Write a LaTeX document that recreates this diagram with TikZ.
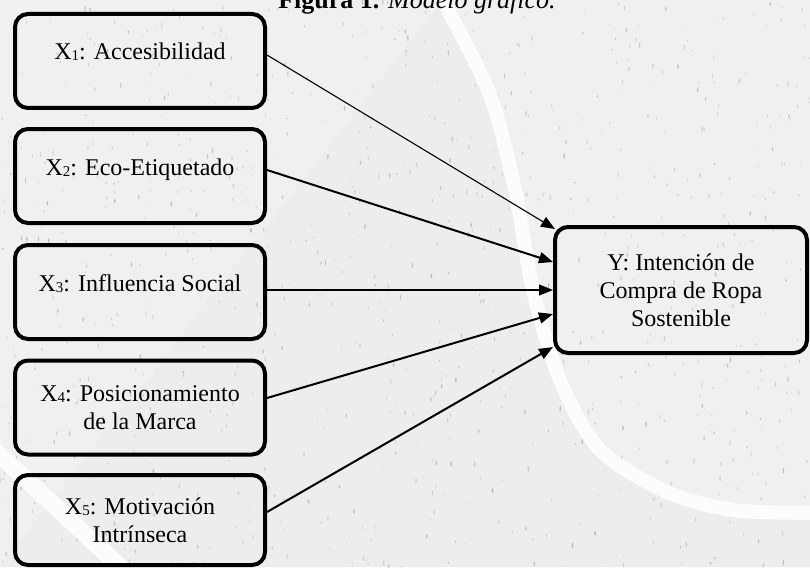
\documentclass[tikz,border=0pt]{standalone}
\usepackage{fontspec}
\setmainfont{Liberation Serif}
\usetikzlibrary{arrows.meta}

\definecolor{paper}{HTML}{F1F0F0}
\definecolor{paperleft}{HTML}{EDEDEF}
\definecolor{speck}{HTML}{A4A4A6}
\definecolor{streak}{HTML}{FCFCFC}

% small digit set on the baseline after a variable letter
\newcommand{\lowdigit}[1]{\raisebox{-1pt}{\fontsize{15}{15}\selectfont #1}}

\begin{document}
\begin{tikzpicture}[x=1pt,y=-1pt,
  varbox/.style={draw=black, line width=4pt, rounded corners=13pt,
    minimum width=250pt, minimum height=94pt, align=center, inner sep=0pt,
    font=\fontsize{24}{28}\selectfont},
  oneline/.style={text height=17pt, text depth=19pt},
  link/.style={-{Triangle[length=14pt,width=11pt]}, line width=1.1pt},
  boldlink/.style={link, line width=2pt},
]
\useasboundingbox (0,0) rectangle (810,567);
\clip (0,0) rectangle (810,567);

% textured paper background
\fill[paper] (0,0) rectangle (810,567);
\fill[paperleft] (0,0) -- (443,0)
  plot[smooth] coordinates {(443,0) (490,95) (515,190) (533,290) (560,380) (600,450) (667,492) (733,510) (810,513)}
  -- (810,567) -- (0,567) -- cycle;

\pgfmathsetseed{4242}
\foreach \i in {1,...,900}{
  \pgfmathsetmacro{\sx}{810*rnd}
  \pgfmathsetmacro{\sy}{567*rnd}
  \pgfmathsetmacro{\rx}{0.35+0.55*rnd}
  \pgfmathsetmacro{\ry}{0.7+2.2*rnd}
  \pgfmathsetmacro{\op}{0.2+0.5*rnd}
  \fill[speck, opacity=\op] (\sx,\sy) ellipse [x radius=\rx, y radius=\ry];
}

% white sweeping bands
\draw[streak, line width=14pt, line cap=round]
  plot[smooth] coordinates {(433,-20) (443,0) (490,95) (515,190) (533,290) (560,380) (600,450) (667,492) (733,510) (810,513) (840,513)};
\draw[streak, line width=17pt] (-12,444) -- (132,578);

% title
\node[anchor=base, font=\fontsize{26}{30}\selectfont] (title) at (417,9)
  {\textbf{Figura 1.} \textit{Modelo gráfico.}};

% variables
\node[varbox, oneline] (x1) at (140,61) {X\lowdigit{1}: Accesibilidad};
\node[varbox, oneline] (x2) at (140,176) {X\lowdigit{2}: Eco-Etiquetado};
\node[varbox, oneline] (x3) at (140,292) {X\lowdigit{3}: Influencia Social};
\node[varbox] (x4) at (140,407.5) {X\lowdigit{4}: Posicionamiento\\de la Marca};
\node[varbox, minimum height=90pt] (x5) at (140,520) {X\lowdigit{5}: Motivación\\Intrínseca};
\node[varbox, minimum width=252pt, minimum height=126pt] (y) at (681,290)
  {Y: Intención de\\Compra de Ropa\\Sostenible};

% effects on the outcome
\draw[link] ([yshift=6pt]x1.east) -- ([xshift=2pt,yshift=61pt]y.west);
\draw[boldlink] ([yshift=6pt]x2.east) -- ([yshift=28pt]y.west);
\draw[link] ([yshift=2pt]x3.east) -- ([yshift=0pt]y.west);
\draw[boldlink] ([yshift=9.5pt]x4.east) -- ([yshift=-24pt]y.west);
\draw[boldlink] ([yshift=8pt]x5.east) -- ([yshift=-57pt]y.west);
\end{tikzpicture}
\end{document}
